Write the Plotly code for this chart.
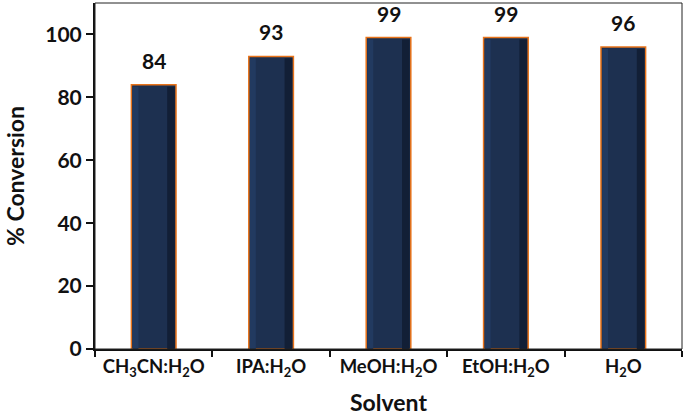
import plotly.graph_objects as go

categories = ["CH<sub>3</sub>CN:H<sub>2</sub>O", "IPA:H<sub>2</sub>O", "MeOH:H<sub>2</sub>O",
              "EtOH:H<sub>2</sub>O", "H<sub>2</sub>O"]
conversion = [84, 93, 99, 99, 96]
y_ticks = [0, 20, 40, 60, 80, 100]
y_range = [0, 110]

FONT = "Lato"
fig = go.Figure()
# main bar
fig.add_trace(go.Bar(
    x=categories, y=conversion, width=0.38, offset=-0.19,
    marker=dict(color="#1d3050", line=dict(color="#e8731a", width=1.5)),
    hoverinfo="skip"))
# bevel strips (darker right side, lighter left side)
fig.add_trace(go.Bar(
    x=categories, y=[v - 0.6 for v in conversion], width=0.065, offset=0.115,
    marker=dict(color="#121f36", line=dict(width=0)), hoverinfo="skip"))
fig.add_trace(go.Bar(
    x=categories, y=[v - 0.6 for v in conversion], width=0.05, offset=-0.18,
    marker=dict(color="#223a60", line=dict(width=0)), hoverinfo="skip"))

for c, v in zip(categories, conversion):
    fig.add_annotation(x=c, y=v, text=str(v), showarrow=False, yanchor="bottom", yshift=10,
                       font=dict(family=FONT, size=21, color="#111", weight="bold"))

fig.update_layout(
    width=685, height=416, barmode="overlay", showlegend=False,
    margin=dict(l=95, r=3, t=3, b=67, autoexpand=False),
    plot_bgcolor="white", paper_bgcolor="white",
    font=dict(family=FONT, color="#111", weight="bold"),
    shapes=[dict(type="rect", xref="paper", yref="paper", x0=0, x1=1, y0=0, y1=1,
                 line=dict(color="#222", width=1), layer="above")],
)
fig.update_xaxes(
    automargin=False,
    showline=True, linecolor="#111", linewidth=2,
    ticks="outside", tickson="boundaries", ticklen=6, tickwidth=2, tickcolor="#111",
    tickfont=dict(family=FONT, size=18.5, weight="bold"),
    title=dict(text="Solvent", font=dict(family=FONT, size=23, weight="bold"), standoff=16),
)
fig.update_yaxes(
    automargin=False,
    range=y_range, tickvals=y_ticks, showgrid=False, zeroline=False,
    showline=True, linecolor="#111", linewidth=2,
    ticks="outside", ticklen=7, tickwidth=2, tickcolor="#111",
    ticksuffix="\u2002\u2002",
    tickfont=dict(family=FONT, size=21, weight="bold"),
    title=dict(text="% Conversion", font=dict(family=FONT, size=23, weight="bold"), standoff=14),
)
fig.write_html("out.html", config={"displayModeBar": False},
               post_script="document.body.style.margin='0';")
